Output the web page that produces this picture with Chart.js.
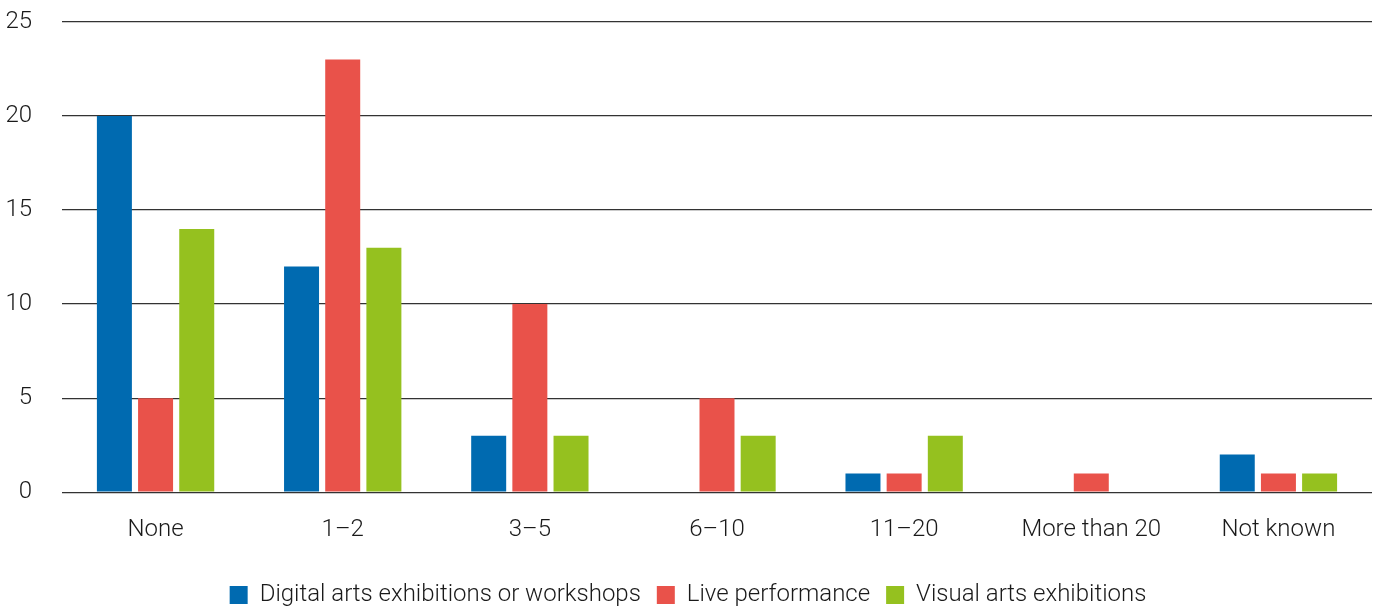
<!DOCTYPE html>
<html>
<head>
<meta charset="utf-8">
<script src="https://cdn.jsdelivr.net/npm/chart.js@4/dist/chart.umd.min.js"></script>
<style>
  html, body { margin: 0; padding: 0; background: #fff; }
  #wrap { width: 1391px; height: 606px; position: relative; }
</style>
</head>
<body>
<div id="wrap"><canvas id="chart"></canvas></div>
<script>
let categories = ['None', '1\u20132', '3\u20135', '6\u201310', '11\u201320', 'More than 20', 'Not known'];
let digitalArts = [20, 12, 3, 0, 1, 0, 2];
let livePerformance = [5, 23, 10, 5, 1, 1, 1];
let visualArts = [14, 13, 3, 3, 3, 0, 1];
let seriesNames = ['Digital arts exhibitions or workshops', 'Live performance', 'Visual arts exhibitions'];
let yTicks = [0, 5, 10, 15, 20, 25];

let colors = ['#006AB0', '#E9524A', '#95C11F'];
let fontFamily = 'Roboto, "Liberation Sans", sans-serif';
let textFont = { family: fontFamily, size: 24, weight: 300 };

function makeSet(i, values) {
    return {
        label: seriesNames[i],
        data: values,
        backgroundColor: colors[i],
        borderWidth: 0,
        barPercentage: 0.85,
        categoryPercentage: 0.66
    };
}

let ctx = document.getElementById('chart').getContext('2d');
let chart = new Chart(ctx, {
    type: 'bar',
    data: {
        labels: categories,
        datasets: [
            makeSet(0, digitalArts),
            makeSet(1, livePerformance),
            makeSet(2, visualArts)
        ]
    },
    options: {
        responsive: true,
        maintainAspectRatio: false,
        animation: false,
        layout: { padding: { left: 4, right: 19, top: 0, bottom: -11 } },
        scales: {
            x: {
                grid: { display: false, drawTicks: false },
                border: { display: false },
                ticks: {
                    color: '#1a1a1a',
                    font: textFont,
                    padding: 23
                }
            },
            y: {
                min: 0,
                max: 25,
                afterBuildTicks: (axis) => { axis.ticks = yTicks.map(v => ({ value: v })); },
                afterFit: (axis) => {
                    // fixed axis width, and keep the tick padding out of the top gap
                    axis.width = 58;
                    axis.paddingTop = 22;
                    axis.paddingBottom = 0;
                },
                grid: { color: '#333', lineWidth: 1.3, drawTicks: false },
                border: { display: false },
                ticks: {
                    color: '#1a1a1a',
                    font: textFont,
                    padding: 30
                }
            }
        },
        plugins: {
            legend: {
                position: 'bottom',
                labels: {
                    color: '#1a1a1a',
                    font: textFont,
                    boxWidth: 18,
                    boxHeight: 18,
                    padding: 16
                }
            },
            tooltip: { enabled: false }
        }
    }
});
</script>
</body>
</html>
